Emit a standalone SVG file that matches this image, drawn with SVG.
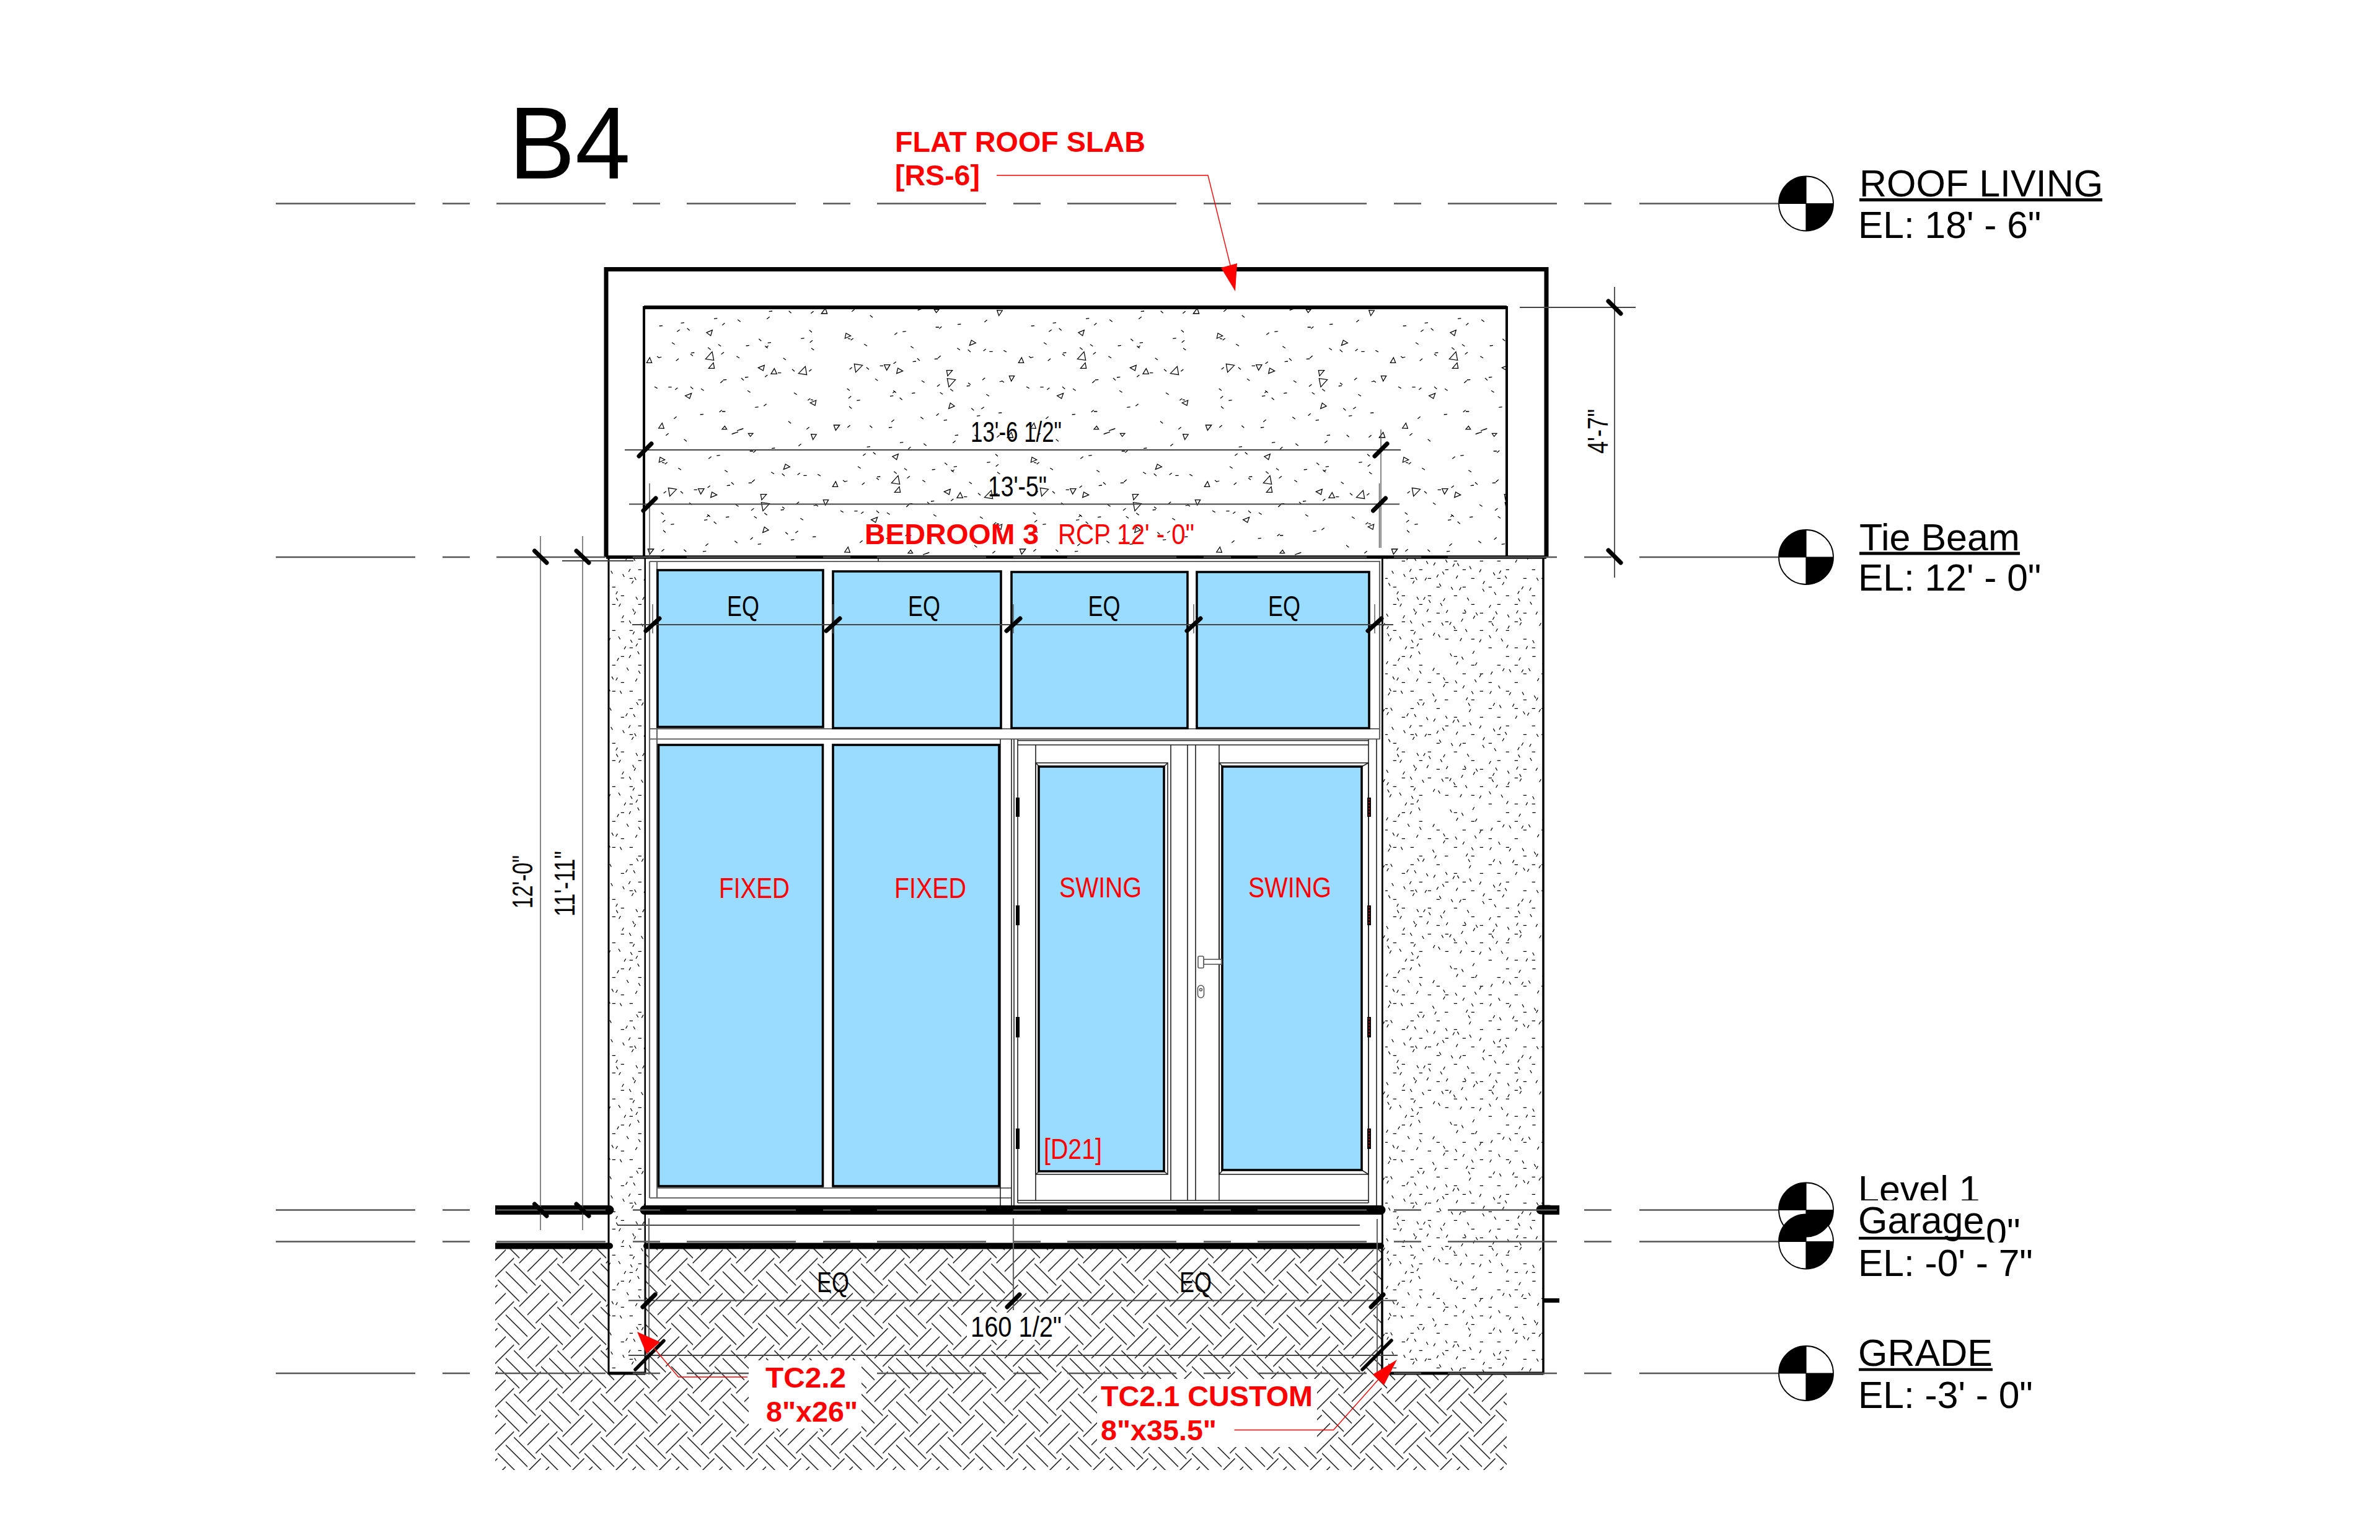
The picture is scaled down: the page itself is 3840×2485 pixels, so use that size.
<svg xmlns="http://www.w3.org/2000/svg" xmlns:xlink="http://www.w3.org/1999/xlink" width="3840" height="2485" viewBox="0 0 3840 2485">
<style>
text{font-family:"Liberation Sans",Arial,sans-serif;fill:#000}
.r{fill:#f00}
.b{font-weight:bold;font-size:46.5px}
.n{font-size:47px}
.l{font-size:61px}
.e{font-size:60.5px}
.lvl{stroke:#555;stroke-width:2.4;fill:none}
.dash{stroke-dasharray:176 44 44 43}
.thin{stroke:#222;stroke-width:1.6;fill:none}
.gr{stroke:#666;stroke-width:2.2;fill:none}
.dim{stroke:#444;stroke-width:1.8;fill:none}
.wit{stroke:#555;stroke-width:1.4;fill:none}
.tick{stroke:#000;stroke-width:7;stroke-linecap:round;fill:none}
.glass{fill:#99dcff;stroke:#000;stroke-width:3.6}
.lead{stroke:#f00;stroke-width:1.4;fill:none}
.hinge{fill:#000;stroke:none}
.mask{fill:#fff;stroke:none}
</style>
<defs>
<g id="eTile" stroke="#000" stroke-width="1.4" fill="none">
<path d="M26.3 36l35 35M13 48.4l35 35M0 61.7l35 35M48 48.4l35-35M61.3 61.7l35-35M34.7 35l35-35"/>
</g>
<pattern id="earth" patternUnits="userSpaceOnUse" x="1923" y="2003.3" width="70" height="70">
<use xlink:href="#eTile" href="#eTile"/>
<use xlink:href="#eTile" href="#eTile" x="-70"/>
<use xlink:href="#eTile" href="#eTile" y="-70"/>
<use xlink:href="#eTile" href="#eTile" x="-70" y="-70"/>
</pattern>
<pattern id="wallConc" patternUnits="userSpaceOnUse" x="2235" y="1300" width="252" height="252">
<g transform="scale(.33333)" stroke="#000" stroke-width="3.6" fill="none">
<path transform="translate(-8,0)" d="M88 34h16M340 34h16M592 34h16M720 34h16M46 76h16M172 76h16M424 76h16M550 76h16M634 76h16M4 118h16M256 118h16M382 118h16M466 118h16M676 118h16M88 160h16M214 160h16M298 160h16M508 160h16M634 160h16M46 202h16M130 202h16M340 202h16M466 202h16M592 202h16M172 244h16M424 244h16M676 244h16M296 244h16M4 286h16M130 286h16M256 286h16M508 286h16M634 286h16M718 286h16M88 328h16M340 328h16M466 328h16M550 328h16M172 370h16M298 370h16M382 370h16M592 370h16M718 370h16M4 412h16M130 412h16M214 412h16M424 412h16M550 412h16M676 412h16M46 454h16M256 454h16M382 454h16M508 454h16M88 496h16M214 496h16M340 496h16M592 496h16M718 496h16M46 538h16M172 538h16M424 538h16M550 538h16M634 538h16M256 580h16M382 580h16M466 580h16M676 580h16M88 622h16M214 622h16M298 622h16M508 622h16M634 622h16M46 664h16M130 664h16M340 664h16M466 664h16M592 664h16M172 706h16M298 706h16M424 706h16M676 706h16M130 748h16M508 748h16M634 748h16M718 748h16"/>
<path transform="translate(-4,-7)" d="M165 16l8 14M318 26l8 14M374 42l8 14M113 95l8 14M170 110l8 14M40 138l8 14M604 103l8 14M698 98l8 14M343 157l8 14M285 142l8 14M437 152l8 14M552 182l8 14M24 195l8 14M80 207l8 14M233 220l8 14M422 209l8 14M667 213l8 14M725 230l8 14M160 262l8 14M406 266l8 14M557 276l8 14M30 289l8 14M672 307l8 14M145 320l8 14M296 328l8 14M203 335l8 14M353 345l8 14M412 360l8 14M36 382l8 14M527 390l8 14M281 386l8 14M93 398l8 14M150 413l8 14M584 406l8 14M737 416l8 14M20 441l8 14M323 460l8 14M475 469l8 14M266 444l8 14M532 485l8 14M62 513l8 14M157 508l8 14M215 523l8 14M401 512l8 14M271 538l8 14M648 516l8 14M705 532l8 14M141 566l8 14M538 579l8 14M596 594l8 14M10 590l8 14M125 623l8 14M183 638l8 14M277 633l8 14M654 610l8 14M335 650l8 14M520 635l8 14M392 664l8 14M15 685l8 14M261 690l8 14M73 700l8 14M131 716l8 14M507 694l8 14M565 710l8 14M717 718l8 14M443 584l8 14M387 570l8 14"/>
<path transform="translate(-4,7)" d="M124 34l8-14M66 48l8-14M9 64l8-14M348 66l8-14M427 14l8-14M651 46l8-14M440 70l8-14M234 96l8-14M515 114l8-14M572 98l8-14M460 127l8-14M60 143l8-14M155 148l8-14M664 104l8-14M740 146l8-14M285 175l8-14M379 181l8-14M18 215l8-14M510 208l8-14M604 214l8-14M243 248l8-14M395 239l8-14M185 264l8-14M735 240l8-14M526 266l8-14M620 270l8-14M12 310l8-14M108 316l8-14M410 296l8-14M692 313l8-14M748 296l8-14M238 342l8-14M331 348l8-14M634 328l8-14M122 373l8-14M460 375l8-14M556 381l8-14M253 400l8-14M347 405l8-14M196 415l8-14M137 430l8-14M477 432l8-14M571 437l8-14M60 482l8-14M363 462l8-14M702 464l8-14M664 458l8-14M645 480l8-14M285 515l8-14M189 509l8-14M75 541l8-14M507 547l8-14M205 567l8-14M299 572l8-14M639 574l8-14M733 580l8-14M148 580l8-14M90 598l8-14M430 600l8-14M524 605l8-14M372 614l8-14M315 630l8-14M655 632l8-14M750 635l8-14M12 650l8-14M597 648l8-14M142 676l8-14M540 662l8-14M236 682l8-14M25 708l8-14M366 708l8-14M460 714l8-14M157 734l8-14M100 748l8-14M685 747l8-14M591 741l8-14"/>
</g>
</pattern>
<g id="sTile" stroke="#000" stroke-width="3.8" fill="none">
<path d="M71 90L87 89M176 76L192 74M336 55L352 53M602 20L618 18M757 151L773 149M491 186L507 184M596 172L612 170M381 351L397 350M486 339L502 337M115 386L131 386M225 221L241 219M645 317L661 317M535 484L551 482M269 519L285 517M375 504L391 504M157 118L170 108M206 101L218 112M376 86L388 76M451 59L464 70M592 56L605 46M698 17L710 28M805 29L818 19M798 110L810 121M800 170L813 160M132 170L146 179M357 179L370 188M553 152L565 163M583 187L596 197M587 194L599 186M307 194L320 205M371 227L384 217M222 226L234 235M152 259L165 248M60 237L72 245M70 243L82 240M445 236L459 245M671 245L684 254M807 197L820 207M714 299L726 310M796 310L808 300M367 366L380 354M468 342L480 353M583 337L595 327M48 384L62 392M148 398L160 389M222 384L235 395M273 394L287 403M498 403L512 412M723 413L737 422M577 478L590 467M142 539L155 529M362 507L374 497M696 551L709 562M784 590L797 580M790 450L802 441M804 447L816 449"/>
<path d="M295 250L327 215L335 256ZM310 295L333 268L338 295ZM300 122L328 110L320 137ZM550 292L580 280L574 306ZM612 322L628 296L640 322ZM745 320L778 286L785 326ZM10 268L25 243L35 268ZM197 428L227 416L218 441ZM802 462L830 450L825 475ZM68 585L85 560L94 586ZM856 30L875 5L884 30ZM447 597L478 586L470 590ZM375 590L388 575L398 590Z"/>
</g>
<pattern id="slabConc" patternUnits="userSpaceOnUse" x="1040" y="496" width="600" height="400">
<g transform="scale(.33333)">
<use xlink:href="#sTile" href="#sTile"/>
<use xlink:href="#sTile" href="#sTile" transform="translate(1800,600) rotate(180)"/>
<use xlink:href="#sTile" href="#sTile" transform="translate(900,1200) rotate(180)"/>
<use xlink:href="#sTile" href="#sTile" transform="translate(900,600)"/>
</g>
</pattern>
<g id="head">
<circle cx="0" cy="0" r="44" fill="#fff" stroke="#000" stroke-width="1.8"/>
</g>
<g id="quad">
<path d="M0 0V-44A44 44 0 0 0-44 0ZM0 0V44A44 44 0 0 0 44 0Z" fill="#000"/>
<path d="M0-44V44M-44 0H44" stroke="#000" stroke-width="1.2"/>
</g>
</defs>
<rect width="3840" height="2485" fill="#fff"/>

<g id="ground"><rect x="799" y="2015" width="1632" height="357" fill="url(#earth)"/></g>

<g id="roof-slab">
<rect x="1039" y="496" width="1392" height="402" fill="url(#slabConc)"/>
<path d="M1039 898V496H2431V898" fill="none" stroke="#000" stroke-width="4"/>
<path d="M1039 496H2431" fill="none" stroke="#000" stroke-width="6"/>
</g>

<g id="walls">
<rect x="982" y="898" width="59" height="1318" fill="#fff"/>
<rect x="2230" y="898" width="260" height="1318" fill="#fff"/>
<rect x="982" y="898" width="59" height="1318" fill="url(#wallConc)"/>
<rect x="2230" y="898" width="260" height="1318" fill="url(#wallConc)"/>
<path d="M982 898V2216H1041V898" fill="none" stroke="#000" stroke-width="3"/>
<path d="M982 2216H1041" fill="none" stroke="#000" stroke-width="5"/>
<path d="M2230 898V2216H2490V898" fill="none" stroke="#000" stroke-width="3.5"/>
<path d="M2242 2216H2490" fill="none" stroke="#000" stroke-width="5"/>
</g>

<g id="frame">
<rect x="1042" y="901" width="1187" height="1044" fill="#fff"/>
<rect x="1042" y="1960" width="1187" height="45" fill="#fff"/>
<path class="gr" d="M1048 906H2226V1193M1048 906V1933M1060 906V1933M1048 1176H2226M1048 1192.5H2226M1060 1917H1632M1048 1933H1632"/>
<path class="thin" d="M1614 1193V1945M1632 1193V1945M1636 1193V1945M1642 1193V1941M2208 1193V1941M2221 1193V1945"/>
<path class="thin" d="M1417 900V906"/>
</g>

<g id="window-t1"><rect class="glass" x="1061" y="920" width="267" height="253"/></g>
<g id="window-t2"><rect class="glass" x="1344" y="922" width="271" height="253"/></g>
<g id="window-t3"><rect class="glass" x="1632" y="923" width="284" height="252"/></g>
<g id="window-t4"><rect class="glass" x="1931" y="923" width="278" height="252"/></g>
<g id="window-fixed-1"><rect class="glass" x="1062.5" y="1202" width="265" height="712"/><text class="n r" x="1160" y="1449" textLength="114" lengthAdjust="spacingAndGlyphs">FIXED</text></g>
<g id="window-fixed-2"><rect class="glass" x="1344" y="1202" width="268" height="712"/><text class="n r" x="1443" y="1449" textLength="116" lengthAdjust="spacingAndGlyphs">FIXED</text></g>

<g id="door-left">
<path class="thin" d="M1642 1195H2208M1642 1202H2208M1642 1937H2208M1642 1941H2208M1889 1202V1937M1916 1202V1937M1929 1202V1937M1671 1202V1937"/>
<rect class="thin" x="1671" y="1231" width="213" height="664"/>
<path class="thin" d="M1671 1231L1677 1237M1884 1231L1878 1237M1671 1895L1677 1890M1884 1895L1878 1890"/>
<rect class="glass" x="1676" y="1237" width="202" height="653"/>
<text class="n r" x="1709" y="1448" textLength="133" lengthAdjust="spacingAndGlyphs">SWING</text>
<text class="n r" x="1684" y="1870" textLength="94" lengthAdjust="spacingAndGlyphs">[D21]</text>
<rect class="hinge" x="1639" y="1287" width="6" height="31"/><rect class="hinge" x="1639" y="1461" width="6" height="32"/><rect class="hinge" x="1639" y="1641" width="6" height="33"/><rect class="hinge" x="1639" y="1821" width="6" height="33"/>
</g>
<g id="door-right">
<path class="thin" d="M1967 1202V1937"/>
<rect class="thin" x="1967" y="1231" width="241" height="664"/>
<path class="thin" d="M1967 1231L1973 1237M2208 1231L2197 1237M1967 1895L1973 1888M2208 1895L2197 1888"/>
<rect class="glass" x="1972" y="1237" width="225" height="651"/>
<text class="n r" x="2014" y="1448" textLength="134" lengthAdjust="spacingAndGlyphs">SWING</text>
<g><rect class="hinge" x="2206" y="1287" width="6" height="31"/><rect class="hinge" x="2206" y="1461" width="6" height="32"/><rect class="hinge" x="2206" y="1641" width="6" height="33"/><rect class="hinge" x="2206" y="1821" width="6" height="33"/></g>
<path d="M2209 1289V1316M2209 1463V1491M2209 1643V1672M2209 1823V1852" stroke="#f00" stroke-width="1.6" stroke-dasharray="2 3" fill="none"/>
<g fill="#fff" stroke="#555" stroke-width="1.6"><rect x="1942" y="1548" width="29" height="8"/><rect x="1933" y="1543" width="9" height="19" rx="2"/><rect x="1932.5" y="1590" width="10" height="20" rx="5"/><circle cx="1937.5" cy="1597" r="2"/></g>
</g>

<g id="floors" stroke="#000" fill="none" stroke-linecap="round">
<path d="M975 1952.5H983M1040 1952.5H2228" stroke-width="15"/>
<path d="M980 2010.5H984M1043 2010.5H2228" stroke-width="10"/>
<path d="M799 1945H980V1960H799ZM799 2005.5H980V2015.5H799Z" fill="#000" stroke="none"/>
<path d="M2490 1945H2516V1960H2490ZM2490 2095H2516V2102H2490Z" fill="#000" stroke="none"/>
<path d="M2486 1952H2500" stroke-width="15"/>
</g>

<g id="beam-outline">
<path d="M978 899V434.500H2495V899" fill="none" stroke="#000" stroke-width="7"/>
<path d="M978 899H2495" fill="none" stroke="#000" stroke-width="5.5"/>
</g>

<g id="connectors">
<g id="level-lines">
<path class="lvl" d="M445 328.500H670M714 328.500H758M2645 328.500H2869M445 899H670M714 899H758M2645 899H2869M445 1952.500H670M714 1952.500H758M2645 1952.500H2869M445 2003.500H670M714 2003.500H758M2645 2003.500H2869M445 2216H670M714 2216H758M2645 2216H2869"/>
<path class="lvl dash" d="M801 328.500H2643"/>
<path class="lvl dash" d="M801 899H2643"/>
<path class="lvl dash" d="M801 1952.500H2643"/>
<path class="lvl dash" d="M801 2003.500H2643"/>
<path class="lvl dash" d="M801 2216H2643"/>
</g>
<g id="dimensions">
<path class="dim" d="M1008 726H2260M1015 813.5H2258M1020 1008H2248M996 1977H2194M1014 2098.5H2254M1014 2187H2255M2452 496H2639M907 905H1022M2605 463V932"/>
<path class="wit" d="M872 865V1985M940 865V1985M2228 693V884M1048 780V898M2225.500 780V884M1053 975V1022M1344 975V1022M1635 975V1022M1926 975V1022M2218 975V1022"/>
<path class="gr" d="M1635 1966V2114M1047 1966V2218M2222 1967V2218"/>
<path class="tick" d="M1031 736L1051 716M1038 824L1058 804M2218 736L2238 716M2215.500 824L2235.500 804M1042 1018L1064 998M1333 1018L1355 998M1624 1018L1646 998M1915 1018L1937 998M2207 1018L2229 998M1037 2109L1057 2089M1625 2109L1645 2089M2212 2109L2232 2089"/>
<path class="tick" d="M862.500 889L882 908M930 889L950 908M862.500 1943L882 1962M930 1943L950 1962M2595 486L2615 506M2595 888L2615 908"/>
<path class="tick" style="stroke-width:5.500" d="M1025 2210L1071 2163.500M2198 2210L2245 2163"/>
</g>
<g id="leaders">
<path class="lead" d="M1608 283H1949L1988 440"/>
<polygon points="1993,470 1970,432 1996,425" fill="#f00"/>
<path class="lead" d="M1206 2222H1094.600L1055 2175"/>
<polygon points="1028,2149 1065,2165.500 1043,2184.600" fill="#f00"/>
</g>
</g>

<g id="labels-dim">
<text class="n" x="1566" y="713" textLength="147" lengthAdjust="spacingAndGlyphs">13'-6 1/2"</text>
<text class="n" x="1594" y="801" textLength="95" lengthAdjust="spacingAndGlyphs">13'-5"</text>
<text class="n" x="1173" y="994" textLength="52" lengthAdjust="spacingAndGlyphs">EQ</text>
<text class="n" x="1465" y="994" textLength="52" lengthAdjust="spacingAndGlyphs">EQ</text>
<text class="n" x="1755.500" y="994" textLength="52" lengthAdjust="spacingAndGlyphs">EQ</text>
<text class="n" x="2046" y="994" textLength="52" lengthAdjust="spacingAndGlyphs">EQ</text>
<text class="n" x="1318" y="2085" textLength="52" lengthAdjust="spacingAndGlyphs">EQ</text>
<text class="n" x="1903" y="2085" textLength="52" lengthAdjust="spacingAndGlyphs">EQ</text>
<rect class="mask" x="1560" y="2118" width="158" height="44"/>
<text class="n" x="1566" y="2157" textLength="147" lengthAdjust="spacingAndGlyphs">160 1/2"</text>
<text class="n" transform="translate(2594,732) rotate(-90)" textLength="72" lengthAdjust="spacingAndGlyphs">4'-7"</text>
<text class="n" transform="translate(859,1466) rotate(-90)" textLength="86" lengthAdjust="spacingAndGlyphs">12'-0"</text>
<text class="n" transform="translate(927,1479) rotate(-90)" textLength="106" lengthAdjust="spacingAndGlyphs">11'-11"</text>
</g>

<g id="label-bedroom">
<text class="b r" x="1395" y="878" textLength="281" lengthAdjust="spacingAndGlyphs">BEDROOM 3</text>
<text class="n r" x="1707" y="878" textLength="220" lengthAdjust="spacingAndGlyphs">RCP 12' - 0"</text>
</g>

<g id="title"><text x="821" y="288" font-size="165" textLength="196" lengthAdjust="spacingAndGlyphs">B4</text></g>

<g id="tag-roof-slab">
<text class="b r" x="1444" y="245" textLength="404" lengthAdjust="spacingAndGlyphs">FLAT ROOF SLAB</text>
<text class="b r" x="1444" y="299" textLength="137" lengthAdjust="spacingAndGlyphs">[RS-6]</text>
</g>

<g id="tag-tc22">
<rect class="mask" x="1208" y="2195" width="182" height="110"/>
<text class="b r" x="1235" y="2239" style="font-size:46px" textLength="130" lengthAdjust="spacingAndGlyphs">TC2.2</text>
<text class="b r" x="1236" y="2294" style="font-size:46px" textLength="148" lengthAdjust="spacingAndGlyphs">8"x26"</text>
</g>
<g id="tag-tc21">
<rect class="mask" x="1770" y="2225" width="355" height="110"/>
<path class="lead" d="M1991.500 2307.500H2151.500L2224 2226"/>
<polygon points="2254,2194 2215,2217.700 2233,2235" fill="#f00"/>
<text class="b r" x="1776" y="2269" style="font-size:46px" textLength="342" lengthAdjust="spacingAndGlyphs">TC2.1 CUSTOM</text>
<text class="b r" x="1776" y="2324" style="font-size:46px" textLength="187" lengthAdjust="spacingAndGlyphs">8"x35.5"</text>
</g>

<g id="level-roof">
<use href="#head" x="2914" y="328.500"/><use href="#quad" x="2914" y="328.500"/>
<text class="l" x="3000" y="317">ROOF LIVING</text>
<path d="M3000 322.500H3392" stroke="#000" stroke-width="5"/>
<text class="e" x="2998" y="384">EL: 18' - 6"</text>
</g>
<g id="level-tie">
<use href="#head" x="2914" y="899"/><use href="#quad" x="2914" y="899"/>
<text class="l" x="3000" y="888">Tie Beam</text>
<path d="M3000 893H3259" stroke="#000" stroke-width="5"/>
<text class="e" x="2998" y="953">EL: 12' - 0"</text>
</g>
<g id="level-1-garage">
<use href="#head" x="2914" y="1952.500"/><use href="#head" x="2914" y="2003.500"/>
<use href="#quad" x="2914" y="1952.500"/><use href="#quad" x="2914" y="2003.500"/>
<text class="l" x="2998" y="1940">Level 1</text>
<text class="l" x="3204" y="2009">0"</text>
<rect class="mask" x="2995" y="1937" width="270" height="8"/>
<rect class="mask" x="2995" y="2005" width="270" height="10"/>
<text class="l" x="2998" y="1990">Garage</text>
<path d="M2999 1998H3202" stroke="#000" stroke-width="4.500"/>
<text class="e" x="2998" y="2059">EL: -0' - 7"</text>
</g>
<g id="level-grade">
<use href="#head" x="2914" y="2216"/><use href="#quad" x="2914" y="2216"/>
<text class="l" x="2998" y="2204">GRADE</text>
<path d="M2999 2210H3215" stroke="#000" stroke-width="4.500"/>
<text class="e" x="2998" y="2272">EL: -3' - 0"</text>
</g>
</svg>
